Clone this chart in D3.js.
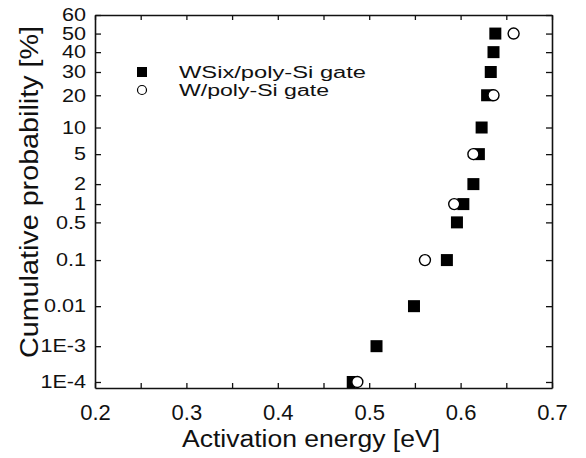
<!DOCTYPE html>
<html>
<head>
<meta charset="utf-8">
<script src="https://cdn.jsdelivr.net/npm/d3@7"></script>
<style>
  body { margin: 0; background: #fff; }
  text { font-family: "Liberation Sans", Arial, sans-serif; fill: #111; }
</style>
</head>
<body>
<script>
let w = 586;
let h = 458;
let plotL = 95, plotR = 552, plotT = 15, plotB = 388;

// cumulative probability in %, activation energy in eV
let wsixProb = [1e-4, 1e-3, 0.01, 0.1, 0.5, 1, 2, 5, 10, 20, 30, 40, 50];
let wsixEa   = [0.482, 0.508, 0.549, 0.585, 0.596, 0.603, 0.614, 0.620, 0.623, 0.629, 0.633, 0.636, 0.638];
let wProb = [1e-4, 0.1, 1, 5, 20, 50];
let wEa   = [0.487, 0.561, 0.593, 0.614, 0.636, 0.658];

let xTicks = [0.2, 0.25, 0.3, 0.35, 0.4, 0.45, 0.5, 0.55, 0.6, 0.65, 0.7];
let yTickVals = [1e-4, 1e-3, 0.01, 0.1, 0.5, 1, 2, 5, 10, 20, 30, 40, 50, 60];
let yTickLabels = ["1E-4", "1E-3", "0.01", "0.1", "0.5", "1", "2", "5", "10", "20", "30", "40", "50", "60"];

// inverse normal cdf (Acklam) -> probability paper axis
function probit(p){
  let a=[-3.969683028665376e+01,2.209460984245205e+02,-2.759285104469687e+02,1.383577518672690e+02,-3.066479806614716e+01,2.506628277459239e+00];
  let b=[-5.447609879822406e+01,1.615858368580409e+02,-1.556989798598866e+02,6.680131188771972e+01,-1.328068155288572e+01];
  let c=[-7.784894002430293e-03,-3.223964580411365e-01,-2.400758277161838e+00,-2.549732539343734e+00,4.374664141464968e+00,2.938163982698783e+00];
  let d=[7.784695709041462e-03,3.224671290700398e-01,2.445134137142996e+00,3.754408661907416e+00];
  let pl = 0.02425, q, r;
  if (p < pl) {
    q = Math.sqrt(-2*Math.log(p));
    return (((((c[0]*q+c[1])*q+c[2])*q+c[3])*q+c[4])*q+c[5])/((((d[0]*q+d[1])*q+d[2])*q+d[3])*q+1);
  }
  if (p <= 1-pl) {
    q = p-0.5; r = q*q;
    return (((((a[0]*r+a[1])*r+a[2])*r+a[3])*r+a[4])*r+a[5])*q/(((((b[0]*r+b[1])*r+b[2])*r+b[3])*r+b[4])*r+1);
  }
  q = Math.sqrt(-2*Math.log(1-p));
  return -(((((c[0]*q+c[1])*q+c[2])*q+c[3])*q+c[4])*q+c[5])/((((d[0]*q+d[1])*q+d[2])*q+d[3])*q+1);
}

let x = d3.scaleLinear().domain([0.2, 0.7]).range([plotL, plotR]);
let yz = d3.scaleLinear().domain([probit(1e-6) - 0.082, probit(0.6)]).range([plotB, plotT]);
let y = (pct) => yz(probit(pct / 100));

let svg = d3.select("body")
            .append("svg")
            .attr("width", w)
            .attr("height", h);

let fmtX = (d) => (Math.round(d*100) % 10 === 0) ? d.toFixed(1) : "";

let gx = svg.append("g").attr("transform", "translate(0," + plotB + ")")
  .call(d3.axisBottom(x).tickValues(xTicks).tickFormat(fmtX).tickSizeInner(-5).tickSizeOuter(0).tickPadding(16));
svg.append("g").attr("transform", "translate(0," + plotT + ")")
  .call(d3.axisTop(x).tickValues(xTicks).tickFormat("").tickSizeInner(-5).tickSizeOuter(0));

let zTicks = yTickVals.map(v => probit(v / 100));
let gy = svg.append("g").attr("transform", "translate(" + plotL + ",0)")
  .call(d3.axisLeft(yz).tickValues(zTicks).tickFormat((d, i) => yTickLabels[i]).tickSizeInner(-6).tickSizeOuter(0).tickPadding(9));
svg.append("g").attr("transform", "translate(" + plotR + ",0)")
  .call(d3.axisRight(yz).tickValues(zTicks).tickFormat("").tickSizeInner(-6).tickSizeOuter(0));

svg.selectAll(".domain").attr("stroke", "#111").attr("stroke-width", 1.6);
svg.selectAll(".tick line").attr("stroke", "#111").attr("stroke-width", 1.3);
svg.selectAll(".tick text").attr("font-family", "Liberation Sans, Arial, sans-serif").attr("fill", "#111");
gx.selectAll(".tick text").attr("font-size", 22);
// y labels look a bit wide in the scan -> stretch sideways
gy.selectAll(".tick text").attr("font-size", 18).attr("x", -9 / 1.2).attr("transform", "scale(1.2,1)");

// axis titles
svg.append("text")
  .attr("x", 311).attr("y", 447)
  .attr("text-anchor", "middle")
  .attr("font-size", 23)
  .attr("textLength", 258).attr("lengthAdjust", "spacingAndGlyphs")
  .text("Activation energy [eV]");

svg.append("text")
  .attr("transform", "translate(38,192) rotate(-90)")
  .attr("text-anchor", "middle")
  .attr("font-size", 25)
  .attr("textLength", 332).attr("lengthAdjust", "spacingAndGlyphs")
  .text("Cumulative probability [%]");

// data
let sq = 12;
svg.selectAll("rect.wsix")
  .data(wsixProb)
  .enter()
  .append("rect")
    .attr("class", "wsix")
    .attr("x", (d, i) => x(wsixEa[i]) - sq/2)
    .attr("y", (d) => y(d) - sq/2)
    .attr("width", sq)
    .attr("height", sq)
    .attr("fill", "#000");

svg.selectAll("circle.w")
  .data(wProb)
  .enter()
  .append("circle")
    .attr("class", "w")
    .attr("cx", (d, i) => x(wEa[i]))
    .attr("cy", (d) => y(d))
    .attr("r", 5.5)
    .attr("fill", "#fff")
    .attr("stroke", "#000")
    .attr("stroke-width", 1.4);

// legend
svg.append("rect").attr("x", 137).attr("y", 67).attr("width", 10).attr("height", 10).attr("fill", "#000");
svg.append("circle").attr("cx", 142).attr("cy", 90).attr("r", 4.5).attr("fill", "#fff").attr("stroke", "#000").attr("stroke-width", 1.2);
svg.append("text").attr("x", 179).attr("y", 78).attr("font-size", 16)
  .attr("textLength", 187).attr("lengthAdjust", "spacingAndGlyphs")
  .text("WSix/poly-Si gate");
svg.append("text").attr("x", 179).attr("y", 96).attr("font-size", 16)
  .attr("textLength", 150).attr("lengthAdjust", "spacingAndGlyphs")
  .text("W/poly-Si gate");
</script>
</body>
</html>
